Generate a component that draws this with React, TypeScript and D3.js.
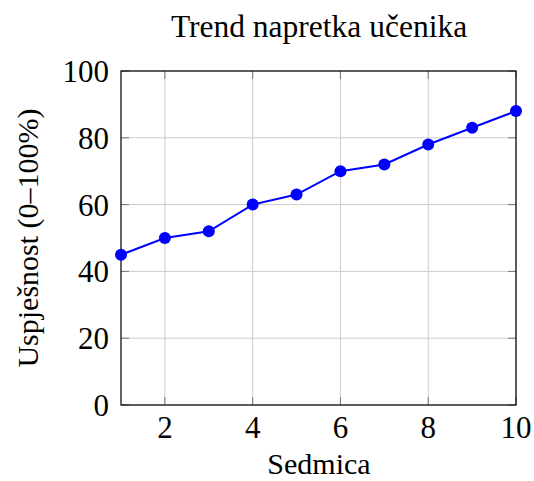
import * as d3 from "d3";
import React from "react";

const weeks = [1, 2, 3, 4, 5, 6, 7, 8, 9, 10];
const scores = [45, 50, 52, 60, 63, 70, 72, 78, 83, 88];
const xTicks = [2, 4, 6, 8, 10];
const yTicks = [0, 20, 40, 60, 80, 100];

const W = 534;
const H = 481;
const margin = { top: 71, right: 18, bottom: 76, left: 121 };
const font = "'Liberation Serif', 'DejaVu Serif', serif";

export default function App() {
  const iw = W - margin.left - margin.right;
  const ih = H - margin.top - margin.bottom;

  const x = d3.scaleLinear().domain([1, 10]).range([0, iw]);
  const y = d3.scaleLinear().domain([0, 100]).range([ih, 0]);

  const pts = weeks.map((w, i) => [w, scores[i]] as [number, number]);
  const line = d3
    .line<[number, number]>()
    .x((d) => x(d[0]))
    .y((d) => y(d[1]));

  return (
    <svg
      width={W}
      height={H}
      style={{ position: "absolute", left: 0, top: 0, background: "#fff" }}
      fontFamily={font}
    >
      <text x={319} y={37} textAnchor="middle" fontSize={31.5} fill="#000">
        Trend napretka učenika
      </text>
      <g transform={`translate(${margin.left},${margin.top})`}>
        {/* grid */}
        {xTicks.map((t) => (
          <line key={"gx" + t} x1={x(t)} x2={x(t)} y1={0} y2={ih} stroke="#cccccc" strokeWidth={1} />
        ))}
        {yTicks.map((t) => (
          <line key={"gy" + t} x1={0} x2={iw} y1={y(t)} y2={y(t)} stroke="#cccccc" strokeWidth={1} />
        ))}
        {/* inner ticks */}
        {xTicks.map((t) => (
          <g key={"tx" + t} stroke="#777" strokeWidth={1}>
            <line x1={x(t)} x2={x(t)} y1={ih} y2={ih - 8} />
            <line x1={x(t)} x2={x(t)} y1={0} y2={8} />
          </g>
        ))}
        {yTicks.map((t) => (
          <g key={"ty" + t} stroke="#777" strokeWidth={1}>
            <line x1={0} x2={8} y1={y(t)} y2={y(t)} />
            <line x1={iw} x2={iw - 8} y1={y(t)} y2={y(t)} />
          </g>
        ))}
        <rect x={0} y={0} width={iw} height={ih} fill="none" stroke="#000" strokeWidth={1.2} />
        {/* tick labels */}
        {xTicks.map((t) => (
          <text key={"lx" + t} x={x(t)} y={ih + 33} textAnchor="middle" fontSize={31} fill="#000">
            {t}
          </text>
        ))}
        {yTicks.map((t) => (
          <text key={"ly" + t} x={-12} y={y(t) + 11} textAnchor="end" fontSize={31} fill="#000">
            {t}
          </text>
        ))}
        {/* series */}
        <path d={line(pts) ?? ""} fill="none" stroke="#0000ff" strokeWidth={2} />
        {pts.map((d, i) => (
          <circle key={i} cx={x(d[0])} cy={y(d[1])} r={6} fill="#0000ff" />
        ))}
      </g>
      <text x={319} y={474} textAnchor="middle" fontSize={30} fill="#000">
        Sedmica
      </text>
      <text
        transform={`translate(38,${margin.top + ih / 2}) rotate(-90)`}
        textAnchor="middle"
        fontSize={30}
        fill="#000"
      >
        Uspješnost (0–100%)
      </text>
    </svg>
  );
}
